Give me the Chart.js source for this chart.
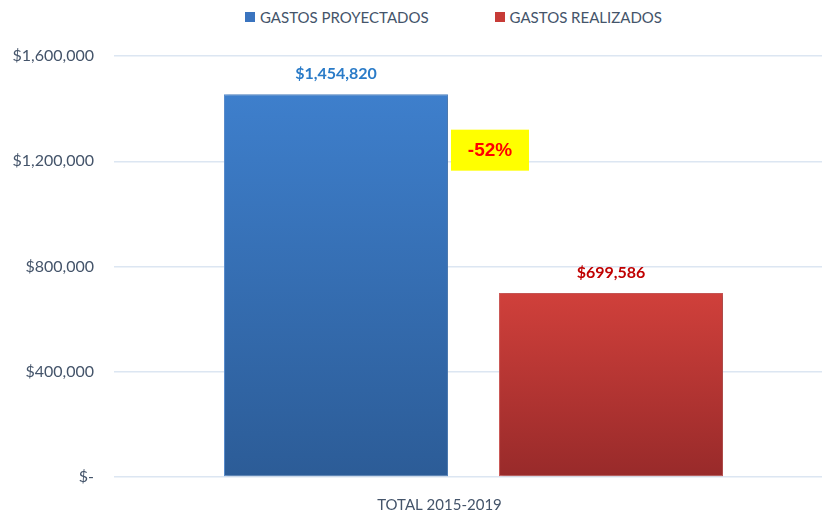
<!DOCTYPE html>
<html>
<head>
<meta charset="utf-8">
<script src="https://cdn.jsdelivr.net/npm/chart.js@4"></script>
<style>
  html, body { margin: 0; padding: 0; background: #fff; overflow: hidden; }
  #wrap { position: relative; width: 822px; height: 510px; overflow: hidden; }
  #chart { position: absolute; left: 0; top: 0; }
  #legend { position: absolute; top: 8px; left: 245px; display: flex; font-family: Lato, sans-serif; font-size: 15px; color: #44546a; }
  #legend .item { display: flex; align-items: center; margin-right: 66px; }
  #legend .box { width: 10px; height: 10px; margin-right: 5px; }
</style>
</head>
<body>
<div id="wrap">
  <div id="legend"></div>
  <canvas id="chart" width="833" height="510"></canvas>
</div>
<script>
const categories = ['TOTAL 2015-2019'];
const seriesNames = ['GASTOS PROYECTADOS', 'GASTOS REALIZADOS'];
const projected = [1454820];
const realized = [699586];
const yTicks = [0, 400000, 800000, 1200000, 1600000];

const SERIES_COLORS = [
  { top: '#3e7fcc', bottom: '#2c5c97', border: '#5a8fd0', legend: '#3a74bf', label: '#2a7bc8' },
  { top: '#d0403b', bottom: '#982a2a', border: '#cf5a58', legend: '#c73b37', label: '#c00000' }
];

const TEXT = '#44546a';
const GRID = '#dce6f2';

function money(v) {
  if (v === 0) return '$-';
  return '$' + v.toLocaleString('en-US');
}

// vertical gradient running from the top of each bar down to the baseline
function barFill(i) {
  return (c) => {
    const chart = c.chart;
    if (!chart.chartArea || c.raw == null) return SERIES_COLORS[i].top;
    const y = chart.scales.y;
    const g = chart.ctx.createLinearGradient(0, y.getPixelForValue(c.raw), 0, y.getPixelForValue(0));
    g.addColorStop(0, SERIES_COLORS[i].top);
    g.addColorStop(1, SERIES_COLORS[i].bottom);
    return g;
  };
}

// legend rows built from the series names
const legendEl = document.getElementById('legend');
seriesNames.forEach((name, i) => {
  const item = document.createElement('div');
  item.className = 'item';
  const box = document.createElement('span');
  box.className = 'box';
  box.style.background = SERIES_COLORS[i].legend;
  const txt = document.createElement('span');
  txt.textContent = name;
  item.appendChild(box);
  item.appendChild(txt);
  legendEl.appendChild(item);
});

// soft drop shadow behind the bars
const barShadow = {
  id: 'barShadow',
  beforeDatasetsDraw(chart) {
    const ctx = chart.ctx;
    ctx.save();
    ctx.shadowColor = 'rgba(0,0,0,0.22)';
    ctx.shadowBlur = 4;
    ctx.shadowOffsetX = 2;
    ctx.shadowOffsetY = 1;
  },
  afterDatasetsDraw(chart) {
    chart.ctx.restore();
  }
};

// value over each bar, plus the change badge next to the first bar
const barLabels = {
  id: 'barLabels',
  afterDraw(chart) {
    const ctx = chart.ctx;
    ctx.save();
    ctx.font = 'bold 16px Lato, sans-serif';
    ctx.textAlign = 'center';
    ctx.textBaseline = 'middle';
    chart.data.datasets.forEach((ds, i) => {
      const meta = chart.getDatasetMeta(i);
      meta.data.forEach((bar, j) => {
        ctx.fillStyle = SERIES_COLORS[i].label;
        ctx.fillText(money(ds.data[j]), bar.x, bar.y - 20);
      });
    });

    const first = chart.getDatasetMeta(0).data[0];
    const change = Math.round((realized[0] / projected[0] - 1) * 100);
    const yScale = chart.scales.y;
    const left = first.x + first.width / 2 + 3;
    const top = yScale.getPixelForValue(1320000);
    const w = 78, h = 41;
    ctx.fillStyle = '#ffff00';
    ctx.fillRect(left, top, w, h);
    ctx.fillStyle = '#ff0000';
    ctx.font = 'bold 19px "Liberation Sans", Arial, sans-serif';
    ctx.fillText(change + '%', left + w / 2, top + h / 2 + 1);
    ctx.restore();
  }
};

new Chart(document.getElementById('chart'), {
  type: 'bar',
  data: {
    labels: categories,
    datasets: [
      {
        label: seriesNames[0],
        data: projected,
        backgroundColor: barFill(0),
        borderColor: SERIES_COLORS[0].border,
        borderWidth: 1,
        borderSkipped: false,
        categoryPercentage: 0.765,
        barPercentage: 0.8145
      },
      {
        label: seriesNames[1],
        data: realized,
        backgroundColor: barFill(1),
        borderColor: SERIES_COLORS[1].border,
        borderWidth: 1,
        borderSkipped: false,
        categoryPercentage: 0.765,
        barPercentage: 0.8145
      }
    ]
  },
  options: {
    responsive: false,
    animation: false,
    layout: { padding: { top: 56, right: 0, bottom: 0, left: 0 } },
    scales: {
      x: {
        grid: { display: false },
        border: { display: false },
        ticks: { color: TEXT, font: { family: 'Lato', size: 15 }, padding: 11, labelOffset: -34 },
        afterFit: (scale) => { scale.height = 33; }
      },
      y: {
        min: 0,
        max: 1600000,
        afterBuildTicks: (scale) => { scale.ticks = yTicks.map(v => ({ value: v })); },
        grid: { color: GRID, lineWidth: 1.5, drawTicks: false },
        border: { display: false },
        ticks: { color: TEXT, font: { family: 'Lato', size: 16 }, padding: 20, callback: (v) => money(v) },
        afterFit: (scale) => { scale.width = 114; }
      }
    },
    plugins: {
      legend: { display: false },
      tooltip: { enabled: false }
    }
  },
  plugins: [barShadow, barLabels]
});
</script>
</body>
</html>
